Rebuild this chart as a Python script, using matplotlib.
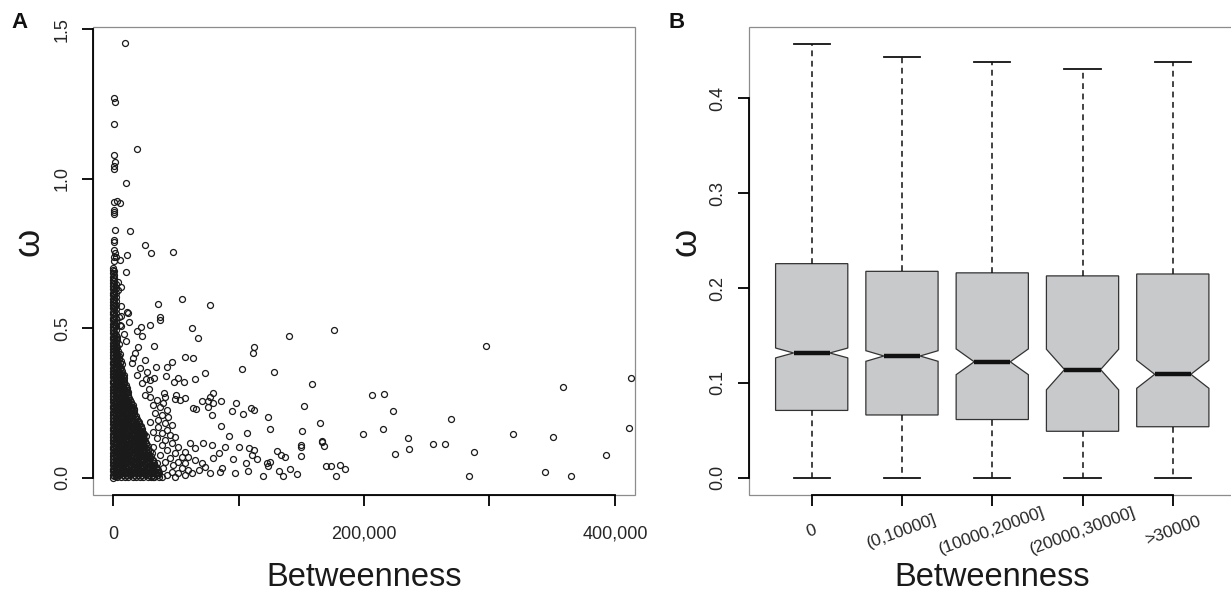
import numpy as np
import matplotlib
matplotlib.use('Agg')
import matplotlib.pyplot as plt
from matplotlib.patches import Rectangle

plt.rcParams['font.family'] = ['Liberation Sans', 'DejaVu Sans']

# ---------------- Panel A data (betweenness in thousands, omega) ----------------
# genes with betweenness 0 (solid column at x = 0)
col0_y = [0.000, 0.009, 0.021, 0.030, 0.042, 0.051, 0.063, 0.072, 0.083, 0.095, 0.104,
          0.116, 0.125, 0.137, 0.146, 0.158, 0.167, 0.179, 0.188, 0.200, 0.211, 0.220,
          0.232, 0.241, 0.253, 0.262, 0.274, 0.283, 0.295, 0.304, 0.316, 0.325, 0.337,
          0.346, 0.358, 0.367, 0.379, 0.388, 0.400, 0.409, 0.421, 0.430, 0.442, 0.451,
          0.463, 0.472, 0.484, 0.493, 0.505, 0.514, 0.526, 0.535, 0.547, 0.556, 0.568,
          0.577, 0.589, 0.598, 0.610, 0.619, 0.631, 0.640, 0.652, 0.661, 0.673, 0.684,
          0.695, 0.703]
# genes with betweenness ~1,000
col1_y = [0.004, 0.015, 0.026, 0.036, 0.047, 0.057, 0.068, 0.078, 0.089, 0.099, 0.110,
          0.121, 0.131, 0.142, 0.152, 0.163, 0.173, 0.184, 0.194, 0.205, 0.216, 0.226,
          0.237, 0.247, 0.258, 0.268, 0.279, 0.289, 0.300, 0.311, 0.321, 0.332, 0.342,
          0.353, 0.363, 0.374, 0.384, 0.395, 0.405, 0.416, 0.426, 0.437, 0.447, 0.458,
          0.468, 0.479, 0.489, 0.500, 0.510, 0.521, 0.531, 0.542, 0.552, 0.563, 0.573,
          0.584, 0.594, 0.605, 0.615, 0.626, 0.636, 0.647, 0.657, 0.668, 0.679, 0.690]
# genes with betweenness ~2,000
col2_y = [0.004, 0.018, 0.031, 0.046, 0.059, 0.073, 0.088, 0.101, 0.115, 0.130, 0.143,
          0.157, 0.172, 0.185, 0.199, 0.214, 0.227, 0.241, 0.256, 0.269, 0.283, 0.298,
          0.311, 0.325, 0.340, 0.353, 0.367, 0.382, 0.395, 0.409, 0.424, 0.437, 0.451,
          0.466, 0.479, 0.493, 0.508, 0.521, 0.535, 0.550, 0.563, 0.577, 0.592, 0.605,
          0.619, 0.634, 0.648]
# dense cloud near the origin: omega levels and the betweenness values (k) seen at each
dense_levels = [0.003, 0.014, 0.026, 0.037, 0.049, 0.060, 0.071, 0.083, 0.094, 0.106,
                0.117, 0.128, 0.140, 0.151, 0.163, 0.174, 0.185, 0.197, 0.208, 0.220,
                0.231, 0.242, 0.254, 0.265, 0.277, 0.288, 0.299, 0.311, 0.322, 0.334,
                0.345, 0.356, 0.368, 0.379, 0.391, 0.402, 0.413, 0.425, 0.436, 0.448,
                0.459, 0.470]
dense_rows = [
    [3.5, 6.5, 9.5, 12, 15.5, 18, 21.5, 24, 27.5, 30, 33, 36.5],
    [4, 7.5, 10, 13.5, 16, 19.5, 22, 25.5, 28, 31.5, 34, 37],
    [3, 6, 9, 12.5, 15, 18.5, 21, 24.5, 27, 30.5, 33, 35.5],
    [4.5, 7, 10.5, 13, 16.5, 19, 22.5, 25, 28.5, 31, 34],
    [3.5, 6, 9.5, 12, 15.5, 18, 21, 24.5, 27, 29.5, 33],
    [4, 7.5, 10, 13.5, 16, 19, 22.5, 25, 28, 31.5],
    [3, 6.5, 9, 12, 15.5, 18, 21.5, 24, 27, 30.5],
    [4.5, 7, 10.5, 13, 16.5, 19, 22, 25.5, 28, 31],
    [3.5, 6, 9.5, 12.5, 15, 18.5, 21, 24, 27.5],
    [4, 7, 10, 13.5, 16, 19.5, 22, 25, 28],
    [3, 6.5, 9, 12.5, 15, 18, 21.5, 24, 26.5],
    [4.5, 7.5, 10, 13, 16.5, 19, 22, 25],
    [3.5, 6, 9.5, 12, 15, 18.5, 21, 24, 26],
    [4, 7, 10.5, 13, 16, 19.5, 22, 24],
    [3, 6.5, 9, 12.5, 15, 18, 21, 23],
    [4.5, 7, 10, 13.5, 16, 19, 22],
    [3.5, 6.5, 9.5, 12, 15, 18, 20.5],
    [4, 7.5, 10, 13, 16.5, 19],
    [3, 6, 9, 12.5, 15, 18],
    [4.5, 7, 10.5, 13, 16.5],
    [3.5, 6.5, 9, 12, 15, 17],
    [4, 7, 10, 13, 15.5],
    [3, 6.5, 9.5, 12, 14.5],
    [4.5, 7.5, 10, 13],
    [3.5, 6, 9, 12],
    [4, 7, 10, 12],
    [3, 6.5, 9, 11],
    [4.5, 7, 10],
    [3.5, 6, 9],
    [4, 7, 9],
    [3, 6, 8.5],
    [4.5, 7.5],
    [3.5, 6.5],
    [4, 7],
    [3, 6],
    [4.5],
    [3.5, 5.5],
    [4],
    [3],
    [4.5],
    [3.5],
    [3],
]
# in-between rows of the same dense cloud
dense_levels2 = [0.009, 0.020, 0.032, 0.043, 0.055, 0.066, 0.077, 0.089, 0.100, 0.112,
                 0.123, 0.134, 0.146, 0.157, 0.169, 0.180, 0.191, 0.203, 0.214, 0.226,
                 0.237, 0.248, 0.260, 0.271, 0.283, 0.294, 0.305, 0.317, 0.328, 0.340,
                 0.351, 0.362, 0.374, 0.385, 0.397, 0.408, 0.419, 0.431, 0.442, 0.454,
                 0.465]
dense_rows2 = [
    [2.5, 5, 8, 11, 13.5, 17, 20, 23, 26, 29, 32, 35.5],
    [2, 5.5, 8.5, 11.5, 14.5, 17.5, 20.5, 23.5, 26.5, 29.5, 32.5, 36],
    [2.5, 5, 8, 11, 14, 17, 20, 23, 26, 29, 32, 35],
    [2, 5.5, 8.5, 11.5, 14.5, 17.5, 20.5, 23.5, 26.5, 29.5, 32.5],
    [2.5, 5, 8, 11, 14, 17, 20, 23, 26, 29, 32],
    [2, 5.5, 8.5, 11.5, 14.5, 17.5, 20.5, 23.5, 26.5, 29.5],
    [2.5, 5, 8, 11, 14, 17, 20, 23, 26, 29],
    [2, 5.5, 8.5, 11.5, 14.5, 17.5, 20.5, 23.5, 26.5, 29.5],
    [2.5, 5, 8, 11, 14, 17, 20, 23, 26],
    [2, 5.5, 8.5, 11.5, 14.5, 17.5, 20.5, 23.5, 26.5],
    [2.5, 5, 8, 11, 14, 17, 20, 23, 25.5],
    [2, 5.5, 8.5, 11.5, 14.5, 17.5, 20.5, 23.5],
    [2.5, 5, 8, 11, 14, 17, 20, 22.5, 25],
    [2, 5.5, 8.5, 11.5, 14.5, 17.5, 20.5, 23],
    [2.5, 5, 8, 11, 14, 17, 20, 22],
    [2, 5.5, 8.5, 11.5, 14.5, 17.5, 20.5],
    [2.5, 5, 8, 11, 14, 17, 19.5],
    [2, 5.5, 8.5, 11.5, 14.5, 17.5],
    [2.5, 5, 8, 11, 14, 17],
    [2, 5.5, 8.5, 11.5, 14.5, 16.5],
    [2.5, 5, 8, 11, 14, 16],
    [2, 5.5, 8.5, 11.5, 14],
    [2.5, 5, 8, 11, 13.5],
    [2, 5.5, 8.5, 11.5],
    [2.5, 5, 8, 11],
    [2, 5.5, 8.5, 11],
    [2.5, 5, 8, 10],
    [2, 5.5, 8.5],
    [2.5, 5, 8],
    [2, 5.5, 8],
    [2.5, 5, 7.5],
    [2, 5.5],
    [2.5, 5],
    [2, 5.5],
    [2.5, 5],
    [2, 4.5],
    [2.5],
    [2],
    [2.5],
    [2],
    [2.5],
]
# individually readable points (betweenness k, omega)
sparse_upper = [(9.4, 1.456), (0.6, 1.271), (1.6, 1.256), (0.6, 1.183), (19.2, 1.101),
                (0.6, 1.081), (1.6, 1.056), (0.6, 1.044), (0.6, 1.033), (10.4, 0.986),
                (0.6, 0.923), (3.0, 0.927), (5.4, 0.919), (0.4, 0.896), (0.4, 0.888),
                (0.4, 0.881), (1.4, 0.829), (13.1, 0.824), (0.5, 0.795), (0.5, 0.788),
                (25.1, 0.780), (30.2, 0.751), (47.8, 0.755), (0.5, 0.762), (1.4, 0.751),
                (0.5, 0.740), (2.7, 0.737), (5.4, 0.728), (0.5, 0.726), (11.2, 0.746),
                (10.2, 0.689), (4.0, 0.656), (6.7, 0.639), (4.0, 0.628), (6.2, 0.574),
                (11.2, 0.554), (12.0, 0.550), (6.2, 0.541), (4.6, 0.537), (12.3, 0.520),
                (35.8, 0.581), (54.7, 0.598), (77.4, 0.578), (37.1, 0.537), (37.1, 0.528),
                (29.1, 0.511), (22.2, 0.503), (19.0, 0.490), (23.2, 0.475), (62.7, 0.500),
                (67.5, 0.467), (5.4, 0.511), (6.7, 0.506), (8.5, 0.480), (10.7, 0.458)]
sparse_mid = [(32.8, 0.442), (112.0, 0.438), (111.2, 0.418), (102.7, 0.362), (128.6, 0.355),
              (57.4, 0.405), (63.5, 0.399), (46.7, 0.387), (42.7, 0.371), (34.2, 0.371),
              (73.4, 0.351), (65.4, 0.330), (56.8, 0.321), (48.6, 0.319), (52.0, 0.335),
              (42.2, 0.340), (32.8, 0.335), (25.9, 0.330), (28.8, 0.297), (40.8, 0.282),
              (50.2, 0.277), (41.4, 0.271), (57.4, 0.268), (53.4, 0.260), (49.6, 0.262),
              (80.0, 0.282), (77.4, 0.271), (71.2, 0.257), (76.0, 0.257), (79.5, 0.251),
              (86.2, 0.257), (63.5, 0.234), (66.2, 0.229), (98.2, 0.249), (94.7, 0.224),
              (103.5, 0.212), (109.6, 0.232), (112.0, 0.227), (123.5, 0.202), (125.4, 0.162),
              (75.5, 0.235), (78.7, 0.210), (106.7, 0.148), (85.9, 0.174), (92.0, 0.140),
              (100.6, 0.104), (108.0, 0.098), (112.0, 0.093), (110.7, 0.076), (114.7, 0.062),
              (105.9, 0.050), (107.5, 0.023), (122.4, 0.050), (123.8, 0.040), (119.5, 0.006),
              (97.4, 0.017), (95.2, 0.062), (86.7, 0.033), (85.4, 0.020), (84.8, 0.084),
              (89.4, 0.102), (78.7, 0.109), (72.0, 0.115), (65.4, 0.098), (61.4, 0.115),
              (57.4, 0.087), (60.0, 0.070), (65.4, 0.059), (70.7, 0.050), (73.4, 0.037),
              (68.8, 0.026), (77.4, 0.017), (80.0, 0.065),
              (20.0, 0.438), (17.4, 0.416), (25.4, 0.394), (14.7, 0.383), (21.4, 0.366),
              (26.7, 0.355), (18.7, 0.344), (29.4, 0.327), (22.7, 0.316), (16.0, 0.399),
              (25.4, 0.277), (29.4, 0.271), (34.7, 0.260), (32.0, 0.243), (37.4, 0.238),
              (40.0, 0.249), (42.7, 0.226), (33.4, 0.215), (38.7, 0.210), (44.0, 0.204),
              (36.0, 0.193), (29.4, 0.187), (41.4, 0.182), (46.7, 0.176), (36.0, 0.171),
              (42.7, 0.160), (32.0, 0.154), (38.7, 0.148), (45.4, 0.143), (49.4, 0.137),
              (34.7, 0.132), (41.4, 0.126), (46.7, 0.115), (52.0, 0.104), (38.7, 0.109),
              (32.0, 0.104), (42.7, 0.093), (49.4, 0.081), (54.7, 0.070), (37.4, 0.076),
              (45.4, 0.065), (52.0, 0.054), (57.4, 0.048), (41.4, 0.054), (34.7, 0.048),
              (48.0, 0.042), (54.7, 0.031), (60.0, 0.026), (40.0, 0.031), (46.7, 0.020),
              (52.0, 0.015), (57.4, 0.009), (62.7, 0.015), (36.0, 0.015), (42.7, 0.009),
              (49.4, 0.003), (32.0, 0.003), (38.7, 0.003)]
sparse_far = [(140.3, 0.474), (176.0, 0.494), (158.2, 0.313), (152.0, 0.240), (165.1, 0.182),
              (150.2, 0.157), (166.7, 0.124), (166.7, 0.119), (168.0, 0.107), (149.4, 0.109),
              (149.4, 0.104), (149.4, 0.074), (130.4, 0.090), (134.2, 0.075), (137.4, 0.070),
              (125.4, 0.054), (132.6, 0.021), (135.2, 0.006), (141.4, 0.030), (146.2, 0.012),
              (169.9, 0.038), (173.9, 0.038), (180.8, 0.042), (184.6, 0.030), (177.6, 0.006),
              (206.2, 0.277), (216.3, 0.281), (223.2, 0.223), (215.2, 0.162), (199.5, 0.145),
              (234.7, 0.132), (235.8, 0.096), (225.1, 0.079), (254.7, 0.112), (264.3, 0.112),
              (269.4, 0.195), (297.1, 0.439), (287.4, 0.087), (283.4, 0.005), (318.7, 0.146),
              (344.5, 0.018), (350.3, 0.137), (359.0, 0.302), (365.0, 0.005), (392.6, 0.076),
              (411.0, 0.166), (412.8, 0.335)]

# ---------------- Panel B data ----------------
group_labels = ['0', '(0,10000]', '(10000,20000]', '(20000,30000]', '>30000']
whis_lo = [0.0, 0.0, 0.0, 0.0, 0.0]
q1 = [0.0709, 0.0661, 0.0613, 0.0489, 0.0537]
med = [0.1315, 0.1283, 0.1222, 0.1140, 0.1090]
q3 = [0.2257, 0.2176, 0.2160, 0.2128, 0.2148]
whis_hi = [0.4577, 0.4440, 0.4380, 0.4313, 0.4389]
notch_half = [0.0052, 0.0056, 0.0136, 0.0214, 0.0148]

# ---------------- assemble panel A points ----------------
xs, ys = [], []
for xv, col in ((0.0, col0_y), (1.0, col1_y), (2.0, col2_y)):
    for y in col:
        xs.append(xv); ys.append(y)
for levels, rows in ((dense_levels, dense_rows), (dense_levels2, dense_rows2)):
    for lev, row in zip(levels, rows):
        for x in row:
            xs.append(x); ys.append(lev)
for group in (sparse_upper, sparse_mid, sparse_far):
    for x, y in group:
        xs.append(x); ys.append(y)
xs = np.array(xs) * 1000.0
ys = np.array(ys)

W, H = 1231, 594
fig = plt.figure(figsize=(W / 100, H / 100), dpi=100)

tick_col = '#262626'
frame_col = '#8c8c8c'

def style_axes(ax, xb, yb):
    for s in ('top', 'right'):
        ax.spines[s].set_visible(False)
    for s in ('left', 'bottom'):
        ax.spines[s].set_color('black')
        ax.spines[s].set_linewidth(1.3)
    ax.spines['left'].set_bounds(*yb)
    ax.spines['bottom'].set_bounds(*xb)
    ax.add_patch(Rectangle((0, 0), 1, 1, transform=ax.transAxes, fill=False,
                           ec=frame_col, lw=0.9, clip_on=False, zorder=0.5))
    ax.tick_params(axis='both', direction='out', length=8, width=1.3,
                   colors='black', labelcolor=tick_col, labelsize=13)
    ax.tick_params(axis='y', labelrotation=90, pad=8)
    for lbl in ax.get_yticklabels():
        lbl.set_va('center')

# ---------------- Panel A ----------------
axA = fig.add_axes([93 / W, 1 - 495 / H, (635 - 93) / W, 468 / H])
axA.plot(xs, ys, ls='none', marker='o', ms=4.3, mfc='none', mec='#1a1a1a', mew=0.9,
         zorder=2)
axA.set_xlim(-16000, 416000)
axA.set_ylim(-0.058, 1.508)
axA.set_xticks([0, 100000, 200000, 300000, 400000])
axA.set_xticklabels(['0', '', '200,000', '', '400,000'])
axA.set_yticks([0.0, 0.5, 1.0, 1.5])
axA.set_yticklabels(['0.0', '0.5', '1.0', '1.5'])
style_axes(axA, (0, 400000), (0, 1.5))
axA.tick_params(axis='x', pad=14)
axA.set_xlabel('Betweenness', fontsize=23.5, color='#1a1a1a', labelpad=14)

# ---------------- Panel B ----------------
axB = fig.add_axes([748.5 / W, 1 - 495 / H, (1236 - 748.5) / W, 468 / H])
stats = []
for i in range(len(group_labels)):
    stats.append(dict(med=med[i], q1=q1[i], q3=q3[i], whislo=whis_lo[i], whishi=whis_hi[i],
                      cilo=med[i] - notch_half[i], cihi=med[i] + notch_half[i],
                      fliers=[], label=group_labels[i]))
positions = list(range(1, len(group_labels) + 1))
axB.bxp(stats, positions=positions, widths=0.8, capwidths=0.4, shownotches=True,
        patch_artist=True, showfliers=False,
        boxprops=dict(facecolor='#c8c9cb', edgecolor='#333333', linewidth=0.9),
        medianprops=dict(color='#111111', linewidth=3.2, solid_capstyle='butt'),
        whiskerprops=dict(color='#111111', linewidth=1.1, linestyle=(0, (3.8, 3))),
        capprops=dict(color='#111111', linewidth=1.3))
axB.set_xlim(0.3, 5.7)
axB.set_ylim(-0.0183, 0.4753)
axB.set_xticks(positions)
axB.set_xticklabels([''] * len(positions))
axB.set_yticks([0.0, 0.1, 0.2, 0.3, 0.4])
axB.set_yticklabels(['0.0', '0.1', '0.2', '0.3', '0.4'])
style_axes(axB, (1, 5), (0, 0.4))
for p, lab in zip(positions, group_labels):
    axB.annotate(lab, xy=(p, 0), xycoords=('data', 'axes fraction'),
                 xytext=(0, -26), textcoords='offset points',
                 rotation=20, rotation_mode='anchor', ha='center', va='center',
                 fontsize=12.5, color=tick_col)
axB.set_xlabel('Betweenness', fontsize=23.5, color='#1a1a1a', labelpad=37)

# ---------------- y labels and panel letters ----------------
fig.text(29 / W, 1 - 242 / H, 'ω', rotation=90, ha='center', va='center',
         fontsize=26, color='#1a1a1a')
fig.text(686 / W, 1 - 242 / H, 'ω', rotation=90, ha='center', va='center',
         fontsize=26, color='#1a1a1a')
fig.text(20 / W, 1 - 22 / H, 'A', ha='center', va='center', fontsize=16,
         fontweight='bold', color='#111111')
fig.text(677 / W, 1 - 22 / H, 'B', ha='center', va='center', fontsize=16,
         fontweight='bold', color='#111111')

fig.savefig('out.png', dpi=100)
